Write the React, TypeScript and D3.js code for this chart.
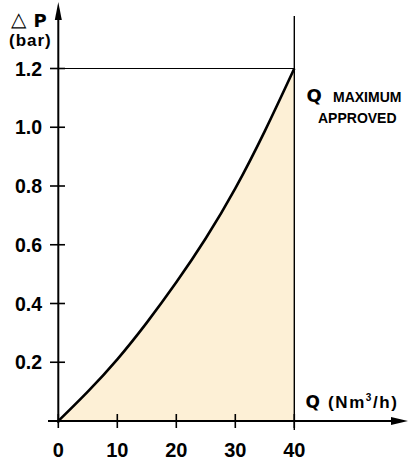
import React from "react";
import * as d3 from "d3";

const flowQ = [0, 5, 10, 15, 20, 25, 30, 35, 40];
const deltaP = [0, 0.1, 0.21, 0.335, 0.472, 0.622, 0.792, 0.987, 1.2];
const xTicks = [0, 10, 20, 30, 40];
const yTicks = [0.2, 0.4, 0.6, 0.8, 1.0, 1.2];

const W = 408;
const H = 459;

export default function App() {
  const x = d3.scaleLinear().domain([0, 40]).range([58.3, 294.3]);
  const y = d3.scaleLinear().domain([0, 1.2]).range([421, 68.5]);
  const pts = flowQ.map((q, i) => [q, deltaP[i]] as [number, number]);
  const line = d3
    .line<[number, number]>()
    .x((d) => x(d[0]))
    .y((d) => y(d[1]))
    .curve(d3.curveNatural);
  const area = d3
    .area<[number, number]>()
    .x((d) => x(d[0]))
    .y0(y(0))
    .y1((d) => y(d[1]))
    .curve(d3.curveNatural);
  const font = "'Liberation Sans', Arial, sans-serif";
  const heavy = "'DejaVu Sans', sans-serif";
  const x0 = x(0);
  const yb = y(0);
  const xMax = x(40);
  return (
    <svg
      width={W}
      height={H}
      style={{ position: "absolute", left: 0, top: 0, background: "#fff" }}
      fontFamily={font}
    >
      <path d={area(pts) || ""} fill="#fdf0d6" />
      <line x1={50} x2={xMax} y1={y(1.2)} y2={y(1.2)} stroke="#000" strokeWidth={1.2} />
      <line x1={xMax} x2={xMax} y1={16} y2={430} stroke="#000" strokeWidth={1.4} />
      <line x1={x0} x2={x0} y1={16} y2={yb + 2} stroke="#000" strokeWidth={2} />
      <path d={`M${x0},2 L${x0 - 3.5},20 L${x0 + 3.5},20 Z`} fill="#000" />
      <line x1={48} x2={395} y1={yb} y2={yb} stroke="#000" strokeWidth={2} />
      <path d={`M408,${yb} L391,${yb - 4} L391,${yb + 4} Z`} fill="#000" />
      {yTicks.map((t) => (
        <g key={"y" + t}>
          <line x1={50} x2={65} y1={y(t)} y2={y(t)} stroke="#000" strokeWidth={1.6} />
          <text
            x={42}
            y={y(t)}
            dy="0.36em"
            textAnchor="end"
            fontSize={19.5}
            fontWeight="bold"
          >
            {t.toFixed(1)}
          </text>
        </g>
      ))}
      {xTicks.map((t) => (
        <g key={"x" + t}>
          <line x1={x(t)} x2={x(t)} y1={yb - 7} y2={yb + 7} stroke="#000" strokeWidth={1.6} />
          <text x={x(t)} y={456.5} textAnchor="middle" fontSize={20} fontWeight="bold">
            {t}
          </text>
        </g>
      ))}
      <path d={line(pts) || ""} fill="none" stroke="#000" strokeWidth={2.6} />
      <text x={11} y={26} fontSize={20}>
        △
      </text>
      <text x={33.5} y={26.5} fontSize={18} fontWeight={900} fontFamily={heavy}>
        P
      </text>
      <text x={9} y={46} fontSize={17} fontWeight="bold" letterSpacing={1}>
        (bar)
      </text>
      <text x={306.5} y={101.5} fontSize={18} fontWeight={900} fontFamily={heavy}>
        Q
      </text>
      <text x={333} y={102} fontSize={14} fontWeight="bold">
        MAXIMUM
      </text>
      <text x={318} y={123} fontSize={14} fontWeight="bold">
        APPROVED
      </text>
      <text x={305.5} y={408} fontSize={17} fontWeight={900} fontFamily={heavy}>
        Q
      </text>
      <text x={328} y={408} fontSize={17} fontWeight="bold" letterSpacing={1.6}>
        (Nm
        <tspan fontSize={10} dy={-7}>3</tspan>
        <tspan dy={7}>/h)</tspan>
      </text>
    </svg>
  );
}
